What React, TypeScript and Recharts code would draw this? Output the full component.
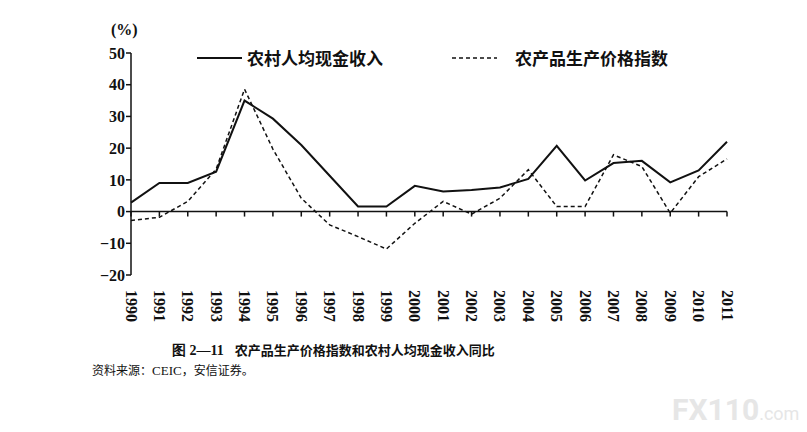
import { ComposedChart, Line, XAxis, YAxis, ReferenceLine, Legend } from 'recharts';

const years = [1990, 1991, 1992, 1993, 1994, 1995, 1996, 1997, 1998, 1999, 2000, 2001, 2002, 2003, 2004, 2005, 2006, 2007, 2008, 2009, 2010, 2011];
const income = [2.8, 9.0, 9.0, 12.6, 35.0, 29.3, 21.0, 11.3, 1.6, 1.6, 8.1, 6.3, 6.8, 7.6, 10.3, 20.7, 9.8, 15.3, 16.0, 9.2, 13.0, 22.0];
const price = [-2.8, -1.8, 3.2, 13.4, 38.6, 19.7, 4.2, -4.2, -7.9, -11.8, -3.7, 3.2, -0.8, 4.2, 13.2, 1.6, 1.6, 17.9, 14.2, -0.5, 11.0, 16.6];
const yTicks = [-20, -10, 0, 10, 20, 30, 40, 50];

const INCOME_NAME = '农村人均现金收入';
const PRICE_NAME = '农产品生产价格指数';
const legendOrder = [INCOME_NAME, PRICE_NAME];

const data = years.map((year, i) => ({ year, income: income[i], price: price[i], axis: 0 }));

const SERIF = '"Liberation Serif", "Times New Roman", serif';
const CJK = '"Noto Sans CJK SC", "Noto Sans", sans-serif';

const YearTick = (props: any) => {
  const { x, y, payload } = props;
  return (
    <text
      x={0}
      y={0}
      transform={`translate(${x},${y}) rotate(90)`}
      dominantBaseline="central"
      textAnchor="start"
      fontFamily={SERIF}
      fontWeight={700}
      fontSize={16}
      fill="#111"
    >
      {payload.value}
    </text>
  );
};

const ZeroTick = (props: any) => {
  const { cx, cy, index } = props;
  return <line key={index} x1={cx} y1={cy} x2={cx} y2={cy + 5} stroke="#111" strokeWidth={1.5} />;
};

const legendLeft = [197, 452];
const legendGap = [5, 18];

const LegendContent = (props: any) => {
  const items = (props.payload || [])
    .filter((p: any) => legendOrder.includes(p.value))
    .sort((a: any, b: any) => legendOrder.indexOf(a.value) - legendOrder.indexOf(b.value));
  return (
    <div style={{ position: 'relative', height: 24 }}>
      {items.map((p: any, i: number) => (
        <div key={p.value} style={{ position: 'absolute', left: legendLeft[i], top: 0, display: 'flex', alignItems: 'center' }}>
          <svg width={45} height={20}>
            <line x1={0} y1={10} x2={45} y2={10} stroke="#111" strokeWidth={i === 0 ? 2 : 1.5} strokeDasharray={i === 0 ? undefined : '4 3'} />
          </svg>
          <span style={{ marginLeft: legendGap[i], fontFamily: CJK, fontWeight: 700, fontSize: 17, color: '#111', whiteSpace: 'nowrap' }}>
            {p.value}
          </span>
        </div>
      ))}
    </div>
  );
};

export default function App() {
  return (
    <div style={{ position: 'absolute', left: 0, top: 0, width: 807, height: 432, background: '#fff', overflow: 'hidden' }}>
      <div style={{ position: 'absolute', left: 111, top: 21, fontFamily: SERIF, fontWeight: 700, fontSize: 16, color: '#111' }}>(%)</div>
      <ComposedChart width={807} height={432} data={data} margin={{ top: 53, right: 80, bottom: 107, left: 71 }}>
        <XAxis
          dataKey="year"
          type="number"
          domain={[1990, 2011]}
          ticks={years}
          interval={0}
          axisLine={false}
          tickLine={false}
          tickSize={15}
          tickMargin={0}
          height={50}
          tick={<YearTick />}
        />
        <YAxis
          domain={[-20, 50]}
          ticks={yTicks}
          width={60}
          tickSize={5}
          tickMargin={1}
          axisLine={{ stroke: '#111', strokeWidth: 1.5 }}
          tickLine={{ stroke: '#111', strokeWidth: 1.5 }}
          tickFormatter={(v: number) => (v < 0 ? `−${Math.abs(v)}` : `${v}`)}
          tick={{ fill: '#111', fontFamily: SERIF, fontWeight: 700, fontSize: 16 }}
        />
        <ReferenceLine y={0} stroke="#111" strokeWidth={1.5} />
        <Legend
          layout="horizontal"
          verticalAlign="middle"
          content={<LegendContent />}
          wrapperStyle={{ position: 'absolute', top: 45, left: 0, width: 807 }}
        />
        <Line dataKey="axis" stroke="none" dot={<ZeroTick />} activeDot={false} legendType="none" isAnimationActive={false} />
        <Line dataKey="income" name={INCOME_NAME} stroke="#111" strokeWidth={2} dot={false} isAnimationActive={false} />
        <Line dataKey="price" name={PRICE_NAME} stroke="#111" strokeWidth={1.5} strokeDasharray="4 3" dot={false} isAnimationActive={false} />
      </ComposedChart>
      <div style={{ position: 'absolute', left: 172, top: 340, fontFamily: CJK, fontWeight: 700, fontSize: 13, color: '#111', whiteSpace: 'nowrap' }}>
        <span style={{ fontFamily: SERIF, fontSize: 14 }}>图 2—11</span>
        <span style={{ marginLeft: 11 }}>农产品生产价格指数和农村人均现金收入同比</span>
      </div>
      <div style={{ position: 'absolute', left: 92, top: 361, fontFamily: CJK, fontSize: 12, color: '#111', whiteSpace: 'nowrap' }}>
        资料来源：<span style={{ fontFamily: SERIF, fontSize: 13 }}>CEIC</span>，安信证券。
      </div>
      <div style={{ position: 'absolute', left: 672, top: 392, fontFamily: 'Roboto, sans-serif', fontWeight: 700, fontSize: 30, color: '#e6e6e6', whiteSpace: 'nowrap' }}>
        FX110<span style={{ fontWeight: 400, fontSize: 18 }}>.com</span>
      </div>
    </div>
  );
}
